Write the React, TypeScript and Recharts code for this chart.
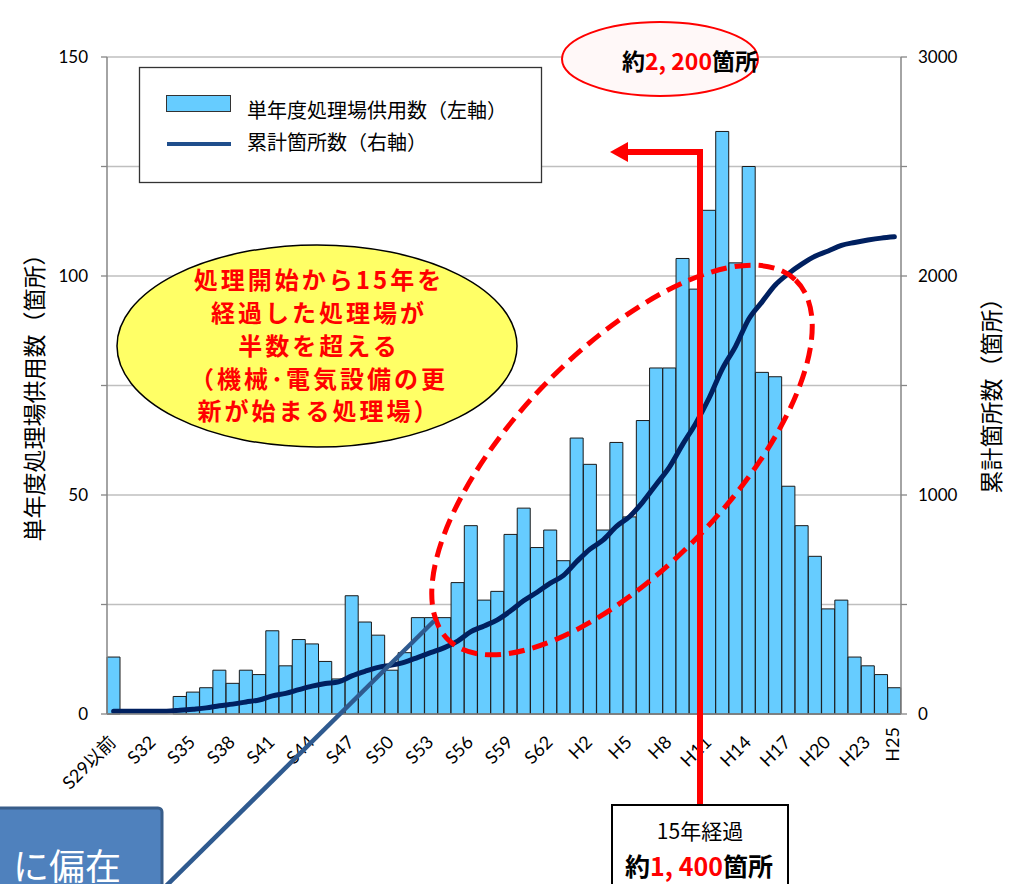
import React from 'react';
import { ComposedChart, Bar, Line, XAxis, YAxis, CartesianGrid } from 'recharts';

// ---- data ----
const categories = [
  'S29以前', 'S30', 'S31', 'S32', 'S33', 'S34', 'S35', 'S36', 'S37', 'S38', 'S39', 'S40',
  'S41', 'S42', 'S43', 'S44', 'S45', 'S46', 'S47', 'S48', 'S49', 'S50', 'S51', 'S52',
  'S53', 'S54', 'S55', 'S56', 'S57', 'S58', 'S59', 'S60', 'S61', 'S62', 'S63',
  'H1', 'H2', 'H3', 'H4', 'H5', 'H6', 'H7', 'H8', 'H9', 'H10', 'H11', 'H12', 'H13',
  'H14', 'H15', 'H16', 'H17', 'H18', 'H19', 'H20', 'H21', 'H22', 'H23', 'H24', 'H25',
];

const annualCounts = [
  13, 0, 0, 0, 0, 4, 5, 6, 10, 7, 10, 9,
  19, 11, 17, 16, 12, 8, 27, 21, 18, 10, 14, 22,
  22, 22, 30, 43, 26, 28, 41, 47, 38, 42, 35,
  63, 57, 42, 62, 45, 67, 79, 79, 104, 97, 115, 133, 103,
  125, 78, 77, 52, 43, 36, 24, 26, 13, 11, 9, 6,
];

const cumulativeCounts = [
  13, 13, 13, 13, 13, 17, 22, 28, 38, 45, 55, 64,
  83, 94, 111, 127, 139, 147, 174, 195, 213, 223, 237, 259,
  281, 303, 333, 376, 402, 430, 471, 518, 556, 598, 633,
  696, 753, 795, 857, 902, 969, 1048, 1127, 1231, 1328, 1443, 1576, 1679,
  1804, 1882, 1959, 2011, 2054, 2090, 2114, 2140, 2153, 2164, 2173, 2179,
];

const shownXLabels = [
  'S29以前', 'S32', 'S35', 'S38', 'S41', 'S44', 'S47', 'S50', 'S53', 'S56', 'S59', 'S62',
  'H2', 'H5', 'H8', 'H11', 'H14', 'H17', 'H20', 'H23', 'H25',
];
const verticalXLabels = ['H25'];

const leftTicks = [0, 25, 50, 75, 100, 125, 150];
const leftTickLabels = [0, 50, 100, 150];
const rightTicks = [0, 500, 1000, 1500, 2000, 2500, 3000];
const rightTickLabels = [0, 1000, 2000, 3000];

const seriesNames = ['単年度処理場供用数（左軸）', '累計箇所数（右軸）'];
const leftAxisTitle = '単年度処理場供用数（箇所）';
const rightAxisTitle = '累計箇所数（箇所）';

const data = categories.map((c, i) => ({
  category: c,
  annual: annualCounts[i],
  cumulative: cumulativeCounts[i],
}));

const LATIN = "Lato, 'Noto Sans CJK JP', sans-serif";
const CJK = "'Noto Sans CJK JP', sans-serif";
const BAR_FILL = '#66CCFF';
const LINE_COLOR = '#002060';
const AXIS = '#868686';
const GRID = '#BFBFBF';

const XTick = (props: any) => {
  const { x, y, payload } = props;
  const label = payload.value as string;
  if (!shownXLabels.includes(label)) return <g />;
  if (verticalXLabels.includes(label)) {
    const px = x - 2;
    const py = y + 13;
    return (
      <text x={px} y={py} transform={`rotate(-90, ${px}, ${py})`} textAnchor="end" dy="0.35em"
        fontSize={18} fontFamily={LATIN} fill="#000">{label}</text>
    );
  }
  const px = x - 1;
  const py = y + 25;
  return (
    <text x={px} y={py} transform={`rotate(-45, ${px}, ${py})`} textAnchor="end" dy="0.35em"
      fontSize={18} fontFamily={LATIN} fill="#000">{label}</text>
  );
};

export default function App() {
  return (
    <div style={{ position: 'absolute', left: 0, top: 0, width: 1011, height: 884, background: '#fff', overflow: 'hidden' }}>
      <ComposedChart
        width={1011}
        height={884}
        data={data}
        margin={{ top: 57, right: 0, bottom: 0, left: 0 }}
        barCategoryGap={0}
        barGap={0}
      >
        <CartesianGrid yAxisId="left" vertical={false} stroke={GRID} strokeWidth={1.3} />
        <XAxis
          dataKey="category"
          interval={0}
          height={170}
          tickLine={false}
          tickSize={0}
          tickMargin={0}
          axisLine={{ stroke: AXIS, strokeWidth: 1.5 }}
          tick={<XTick />}
        />
        <YAxis
          yAxisId="left"
          width={107}
          domain={[0, 150]}
          ticks={leftTicks}
          interval={0}
          tickSize={6}
          tickMargin={13}
          axisLine={{ stroke: AXIS, strokeWidth: 1.5 }}
          tickLine={{ stroke: AXIS, strokeWidth: 1.3 }}
          tick={{ fontSize: 17, fontFamily: LATIN, fill: '#000' }}
          tickFormatter={(v: number) => (leftTickLabels.includes(v) ? String(v) : '')}
        />
        <YAxis
          yAxisId="right"
          orientation="right"
          width={110}
          domain={[0, 3000]}
          ticks={rightTicks}
          interval={0}
          tickSize={6}
          tickMargin={11}
          axisLine={{ stroke: AXIS, strokeWidth: 1.5 }}
          tickLine={{ stroke: AXIS, strokeWidth: 1.3 }}
          tick={{ fontSize: 17, fontFamily: LATIN, fill: '#000' }}
          tickFormatter={(v: number) => (rightTickLabels.includes(v) ? String(v) : '')}
        />
        <Bar
          yAxisId="left"
          dataKey="annual"
          name={seriesNames[0]}
          fill={BAR_FILL}
          stroke="#1a1a1a"
          strokeWidth={1}
          isAnimationActive={false}
        />
        <Line
          yAxisId="right"
          dataKey="cumulative"
          name={seriesNames[1]}
          type="monotone"
          stroke={LINE_COLOR}
          strokeWidth={5}
          dot={false}
          activeDot={false}
          strokeLinecap="round"
          isAnimationActive={false}
        />
      </ComposedChart>

      <svg width={1011} height={884} style={{ position: 'absolute', left: 0, top: 0, pointerEvents: 'none' }}>
        {/* axis titles */}
        <text x={33} y={392} transform="rotate(-90, 33, 392)" textAnchor="middle" dominantBaseline="central"
          fontSize={23} fontFamily={CJK} fill="#000">{leftAxisTitle}</text>
        <text x={990} y={390} transform="rotate(-90, 990, 390)" textAnchor="middle" dominantBaseline="central"
          fontSize={23} fontFamily={CJK} fill="#000">{rightAxisTitle}</text>

        {/* legend */}
        <rect x={139.5} y={67.5} width={402} height={115} fill="#fff" stroke="#333" strokeWidth={1.3} />
        <rect x={166.5} y={95.5} width={64} height={16} fill={BAR_FILL} stroke="#333" strokeWidth={1} />
        <text x={247} y={118} fontSize={20} fontFamily={CJK} fill="#000">{seriesNames[0]}</text>
        <line x1={167} y1={144} x2={231} y2={144} stroke="#1F4E8C" strokeWidth={4} />
        <text x={247} y={150} fontSize={20} fontFamily={CJK} fill="#000">{seriesNames[1]}</text>

        {/* top callout ellipse */}
        <ellipse cx={660} cy={59} rx={98} ry={37} fill="#fff8f8" stroke="#FF0000" strokeWidth={2} />
        <text x={690} y={70} textAnchor="middle" fontSize={23} fontWeight="bold" fontFamily={CJK} fill="#000">
          約<tspan fill="#FF0000">2, 200</tspan>箇所
        </text>

        {/* yellow callout */}
        <ellipse cx={317} cy={346} rx={200} ry={101} fill="#FFFF66" stroke="#000" strokeWidth={1.5} />
        <g fontSize={24} fontWeight="bold" fontFamily={CJK} fill="#FF0000" textAnchor="middle" letterSpacing={3}>
          <text x={319} y={289}>処理開始から15年を</text>
          <text x={319} y={322}>経過した処理場が</text>
          <text x={319} y={355}>半数を超える</text>
          <text x={319} y={388}>（機械･電気設備の更</text>
          <text x={319} y={420}>新が始まる処理場）</text>
        </g>

        {/* red dashed ellipse */}
        <ellipse cx={622} cy={460} rx={250} ry={108} transform="rotate(-46, 622, 460)" fill="none"
          stroke="#FF0000" strokeWidth={5} strokeDasharray="16 8" />

        {/* red arrow */}
        <polyline points="700,806 700,152 626,152" fill="none" stroke="#FF0000" strokeWidth={6} />
        <polygon points="628,142 610,152 628,162" fill="#FF0000" />

        {/* bottom box */}
        <rect x={612} y={805} width={176} height={90} fill="#fff" stroke="#000" strokeWidth={2} />
        <text x={700} y={839} textAnchor="middle" fontSize={21} fontFamily={CJK} fill="#000">15年経過</text>
        <text x={699} y={876} textAnchor="middle" fontSize={25} fontWeight="bold" fontFamily={CJK} fill="#000">
          約<tspan fill="#FF0000">1, 400</tspan>箇所
        </text>

        {/* blue box and connector */}
        <rect x={-6} y={808} width={168} height={100} rx={4} fill="#4F81BD" stroke="#385D8A" strokeWidth={3} />
        <text x={121} y={880} textAnchor="end" fontSize={36} fontFamily={CJK} fill="#fff">に偏在</text>
        <line x1={166} y1={886} x2={434} y2={621} stroke="#2F5A8F" strokeWidth={4.5} />
      </svg>
    </div>
  );
}
